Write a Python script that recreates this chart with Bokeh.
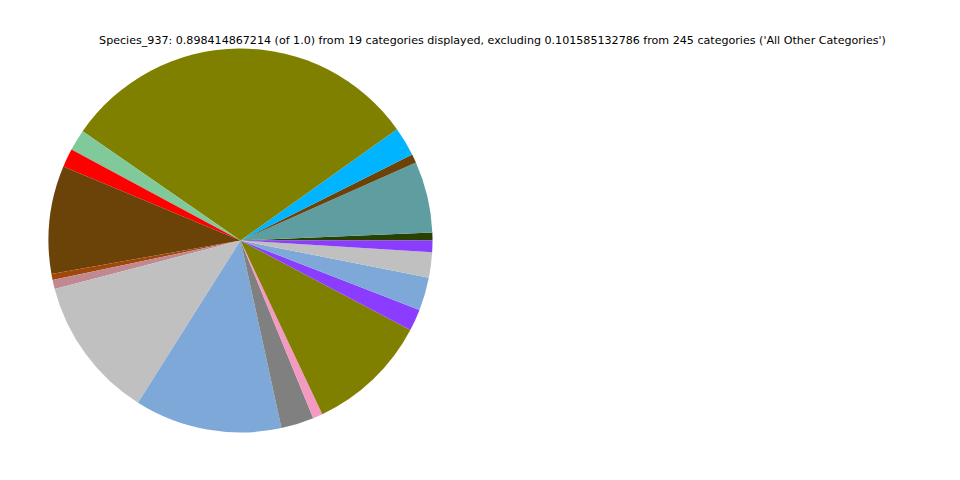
import numpy as np
from bokeh.plotting import figure
from bokeh.models import ColumnDataSource
from bokeh.core.properties import value
from bokeh.embed import file_html
from bokeh.resources import INLINE

# Displayed categories' shares (of 1.0), counterclockwise from angle 0
categories = [f"cat_{i}" for i in range(1, 20)]
shares = [0.0060, 0.0539, 0.0065, 0.0220, 0.2743, 0.0160, 0.0140, 0.0816,
          0.0046, 0.0069, 0.1076, 0.1113, 0.0248, 0.0074, 0.0923, 0.0165,
          0.0250, 0.0192, 0.0087]
colors = ["#284000", "#5F9EA0", "#6B4309", "#00B4FF", "#808000", "#80C99A",
          "#FF0000", "#6B4309", "#A0470A", "#C08890", "#C0C0C0", "#7EA8D8",
          "#808080", "#F49AC2", "#808000", "#8B3DFF", "#7EA8D8", "#C0C0C0",
          "#8B3DFF"]
title_text = ("Species_937: 0.898414867214 (of 1.0) from 19 categories displayed, "
              "excluding 0.101585132786 from 245 categories ('All Other Categories')")

W, H = 944, 464
vals = np.array(shares)
frac = vals / vals.sum()
ends = np.cumsum(frac) * 2 * np.pi
starts = np.concatenate([[0.0], ends[:-1]])

src = ColumnDataSource(dict(cat=categories, start=starts, end=ends, color=colors))

p = figure(width=W, height=H, x_range=(0, W), y_range=(0, H),
           output_backend="svg", toolbar_location=None, min_border=0)
p.axis.visible = False
p.grid.visible = False
p.outline_line_color = None
p.background_fill_color = "white"
p.border_fill_color = "white"

cx, cy, r = 240, 224, 192
p.wedge(x=cx, y=cy, radius=r, start_angle="start", end_angle="end",
        direction="anticlock", fill_color="color", line_color=None, source=src)

p.text(x=[492], y=[424], text=[title_text], text_align="center",
       text_baseline="middle", text_font=value("DejaVu Sans"),
       text_font_size="11.1px", text_color="black")

open("out.html", "w").write(file_html(p, INLINE))
